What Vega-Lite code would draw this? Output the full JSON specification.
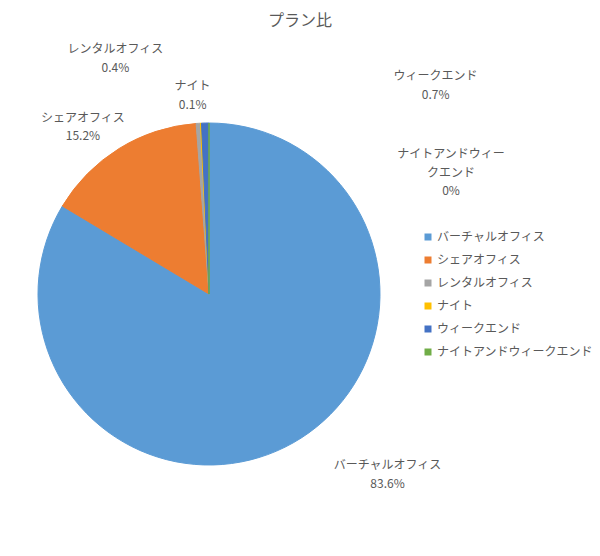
{
  "$schema": "https://vega.github.io/schema/vega-lite/v6.json",
  "autosize": {"type": "none"},
  "padding": {"left": 0, "top": 123, "right": 182, "bottom": 91},
  "width": 418,
  "height": 342,
  "background": "white",
  "title": {
    "text": "プラン比",
    "font": "Noto Sans CJK JP",
    "fontSize": 16,
    "fontWeight": "normal",
    "color": "#595959",
    "anchor": "middle",
    "frame": "group",
    "dx": 91,
    "offset": 14
  },
  "config": {
    "view": {"stroke": null},
    "text": {"font": "Noto Sans CJK JP", "fontSize": 12, "color": "#595959", "lineHeight": 18.5},
    "legend": {"labelFont": "Noto Sans CJK JP"}
  },
  "data": {
    "values": [
      {"plan": "バーチャルオフィス", "pct": 83.6, "rank": 1},
      {"plan": "シェアオフィス", "pct": 15.2, "rank": 2},
      {"plan": "レンタルオフィス", "pct": 0.4, "rank": 3},
      {"plan": "ナイト", "pct": 0.1, "rank": 4},
      {"plan": "ウィークエンド", "pct": 0.7, "rank": 5},
      {"plan": "ナイトアンドウィークエンド", "pct": 0, "rank": 6}
    ]
  },
  "transform": [
    {
      "calculate": "datum.plan === 'ナイトアンドウィークエンド' ? ['ナイトアンドウィー', 'クエンド', datum.pct + '%'] : [datum.plan, datum.pct + '%']",
      "as": "label"
    }
  ],
  "encoding": {
    "theta": {"field": "pct", "type": "quantitative", "stack": true},
    "order": {"field": "rank", "type": "quantitative"}
  },
  "layer": [
    {
      "mark": {"type": "arc", "strokeWidth": 1},
      "encoding": {
        "color": {
          "field": "plan",
          "type": "nominal",
          "scale": {
            "domain": ["バーチャルオフィス", "シェアオフィス", "レンタルオフィス", "ナイト", "ウィークエンド", "ナイトアンドウィークエンド"],
            "range": ["#5B9BD5", "#ED7D31", "#A5A5A5", "#FFC000", "#4472C4", "#70AD47"]
          },
          "legend": {
            "title": null,
            "orient": "none",
            "legendX": 422,
            "legendY": 108,
            "symbolType": "square",
            "symbolSize": 49,
            "symbolStrokeWidth": 0,
            "labelFontSize": 12,
            "labelColor": "#595959",
            "labelOffset": 3,
            "labelLimit": 0,
            "rowPadding": 11,
            "padding": 0
          }
        },
        "stroke": {
          "field": "plan",
          "type": "nominal",
          "scale": {
            "domain": ["バーチャルオフィス", "シェアオフィス", "レンタルオフィス", "ナイト", "ウィークエンド", "ナイトアンドウィークエンド"],
            "range": ["#5B9BD5", "#ED7D31", "#A5A5A5", "#FFC000", "#4472C4", "#70AD47"]
          },
          "legend": null
        }
      }
    },
    {
      "mark": {"type": "text", "radius": 200, "dx": 80, "dy": -3},
      "encoding": {
        "text": {"condition": {"test": "datum.plan === 'バーチャルオフィス'", "field": "label"}, "value": ""}
      }
    },
    {
      "mark": {"type": "text", "radius": 200, "dx": -21, "dy": -6},
      "encoding": {
        "text": {"condition": {"test": "datum.plan === 'シェアオフィス'", "field": "label"}, "value": ""}
      }
    },
    {
      "mark": {"type": "text", "radius": 200, "dx": -81, "dy": -45},
      "encoding": {
        "text": {"condition": {"test": "datum.plan === 'レンタルオフィス'", "field": "label"}, "value": ""}
      }
    },
    {
      "mark": {"type": "text", "radius": 200, "dx": -7, "dy": -8},
      "encoding": {
        "text": {"condition": {"test": "datum.plan === 'ナイト'", "field": "label"}, "value": ""}
      }
    },
    {
      "mark": {"type": "text", "radius": 200, "dx": 231, "dy": -18},
      "encoding": {
        "text": {"condition": {"test": "datum.plan === 'ウィークエンド'", "field": "label"}, "value": ""}
      }
    },
    {
      "mark": {"type": "text", "radius": 200, "dx": 242, "dy": 60},
      "encoding": {
        "text": {"condition": {"test": "datum.plan === 'ナイトアンドウィークエンド'", "field": "label"}, "value": ""}
      }
    }
  ]
}
